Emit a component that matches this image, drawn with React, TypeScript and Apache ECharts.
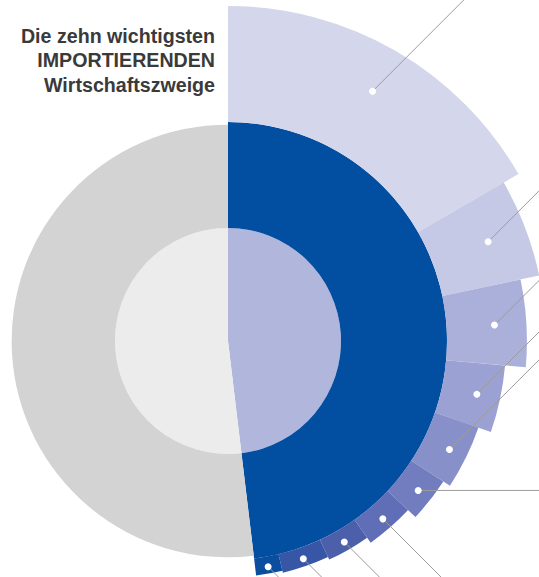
import React, { useEffect, useRef } from 'react';
import * as echarts from 'echarts';

// ---- data ----
const titleLines = ['Die zehn wichtigsten', 'IMPORTIERENDEN', 'Wirtschaftszweige'];
const branchRanks = ['1', '2', '3', '4', '5', '6', '7', '8', '9', '10'];
// share of the full circle (percent) for each of the ten branches
const branchShares = [16.7, 5.0, 4.7, 3.9, 3.9, 2.8, 3.2, 2.9, 3.2, 1.8];
// outer radius of each branch sector (ring radius = 100)
const branchRadii = [153, 145.2, 136.5, 127, 121, 117.4, 112.8, 110, 108.7, 107.8];
const coreRadius = 51.6;
const ringRadius = 100;
const otherRingRadius = 98.8;

// ---- styles ----
const branchColors = ['#d4d6eb', '#c6c9e6', '#abb0da', '#9ba1d3', '#8890c9', '#727dbf', '#5f6eb6', '#4b5fab', '#3757a6', '#0b4d9f'];
const coreColors = ['#b1b6dc', '#ececec'];
const ringColors = ['#024ea0', '#d3d3d3'];
const leaderDirs = ['up', 'up', 'up', 'up', 'up', 'flat', 'down', 'down', 'down', 'down'];

export default function App() {
  const ref = useRef<HTMLDivElement>(null);
  useEffect(() => {
    document.body.style.margin = '0';
    const chart = echarts.init(ref.current!, null, { renderer: 'svg' });
    const topTen = branchShares.reduce((s, v) => s + v, 0);

    const baseRows = [
      [0, coreRadius, 0, topTen, 0],
      [0, coreRadius, topTen, 100, 1],
      [coreRadius, ringRadius, 0, topTen, 2],
      [coreRadius, otherRingRadius, topTen, 100, 3],
    ];
    const baseColors = [coreColors[0], coreColors[1], ringColors[0], ringColors[1]];

    let acc = 0;
    const branchRows = branchShares.map((s, i) => {
      const row = [ringRadius, branchRadii[i], acc, acc + s, i];
      acc += s;
      return row;
    });

    const geom = (params: any, api: any) => {
      const cs = params.coordSys;
      const cx = cs.cx, cy = cs.cy;
      const r0v = api.value(0), r1v = api.value(1), a0 = api.value(2), a1 = api.value(3);
      const pR0 = api.coord([r0v, a0]);
      const pR1 = api.coord([r1v, a0]);
      const pA1 = api.coord([ringRadius, a1]);
      const r0 = Math.hypot(pR0[0] - cx, pR0[1] - cy);
      const r = Math.hypot(pR1[0] - cx, pR1[1] - cy);
      const pA0 = api.coord([ringRadius, a0]);
      let s = Math.atan2(pA0[1] - cy, pA0[0] - cx);
      let e = Math.atan2(pA1[1] - cy, pA1[0] - cx);
      if (e <= s + 1e-6) e += Math.PI * 2;
      return { cx, cy, r0, r, s, e };
    };

    const option: any = {
      animation: false,
      polar: { center: [228, 341], radius: 350.4 },
      radiusAxis: { type: 'value', min: 0, max: 160, show: false },
      angleAxis: { type: 'value', min: 0, max: 100, startAngle: 90, clockwise: true, show: false },
      graphic: titleLines.map((t, i) => ({
        type: 'text',
        x: 215,
        y: 35.5 + i * 24.5,
        scaleX: 0.935,
        style: {
          text: t,
          fill: '#3a3a3a',
          font: 'bold 21px "Liberation Sans", Arial, sans-serif',
          align: 'right',
          verticalAlign: 'middle',
        },
      })),
      series: [
        {
          type: 'custom',
          coordinateSystem: 'polar',
          silent: true,
          data: baseRows,
          renderItem: (params: any, api: any) => {
            const g = geom(params, api);
            return {
              type: 'sector',
              shape: { cx: g.cx, cy: g.cy, r0: g.r0, r: g.r, startAngle: g.s, endAngle: g.e, clockwise: true },
              style: { fill: baseColors[api.value(4)] },
            };
          },
        },
        {
          type: 'custom',
          coordinateSystem: 'polar',
          silent: true,
          name: 'branches',
          data: branchRows.map((row, i) => ({ name: branchRanks[i], value: row })),
          renderItem: (params: any, api: any) => {
            const g = geom(params, api);
            const idx = api.value(4);
            const mid = (g.s + g.e) / 2;
            const rd = g.r0 + (g.r - g.r0) * 0.6;
            const dx = g.cx + rd * Math.cos(mid);
            const dy = g.cy + rd * Math.sin(mid);
            const dir = leaderDirs[idx];
            const L = 400;
            const ex = dir === 'flat' ? dx + L : dx + L * Math.SQRT1_2;
            const ey = dir === 'flat' ? dy : dir === 'up' ? dy - L * Math.SQRT1_2 : dy + L * Math.SQRT1_2;
            return {
              type: 'group',
              children: [
                {
                  type: 'sector',
                  shape: { cx: g.cx, cy: g.cy, r0: g.r0, r: g.r, startAngle: g.s, endAngle: g.e, clockwise: true },
                  style: { fill: branchColors[idx] },
                },
                {
                  type: 'line',
                  shape: { x1: dx, y1: dy, x2: ex, y2: ey },
                  style: { stroke: '#9c9c9c', lineWidth: 1 },
                },
                {
                  type: 'circle',
                  shape: { cx: dx, cy: dy, r: 3.5 },
                  style: { fill: '#ffffff' },
                },
              ],
            };
          },
        },
      ],
    };
    chart.setOption(option);
    return () => chart.dispose();
  }, []);
  return <div ref={ref} style={{ width: 539, height: 577 }} />;
}
